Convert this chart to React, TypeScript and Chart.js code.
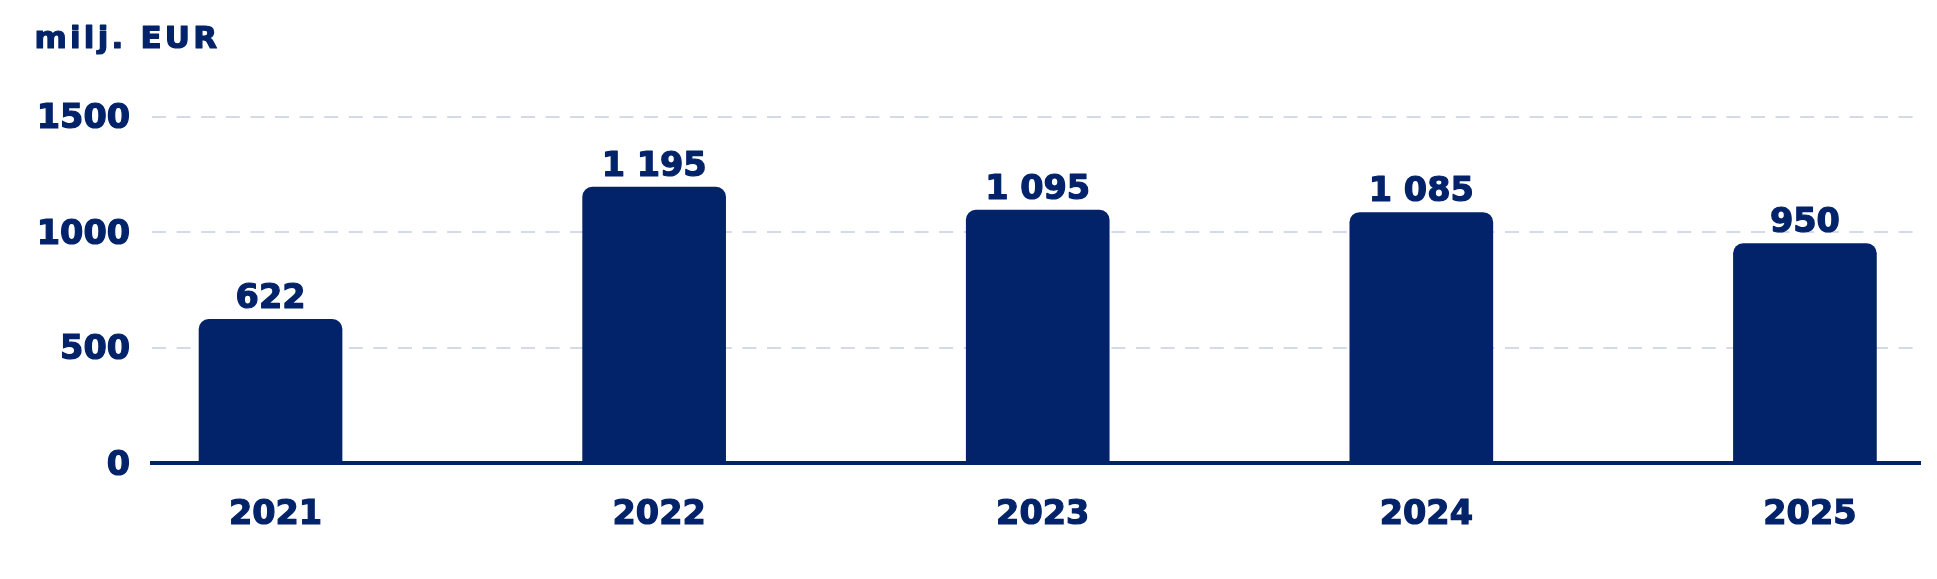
import React, { useEffect, useRef } from 'react';
import { Chart, registerables } from 'chart.js';

Chart.register(...registerables);

const categories = ['2021', '2022', '2023', '2024', '2025'];
const values = [622, 1195, 1095, 1085, 950];
const yTicks = [0, 500, 1000, 1500];
const unitLabel = 'milj. EUR';

const NAVY = '#022369';
const GRID = '#d5dae8';
const FONT = '"DejaVu Sans", Verdana, sans-serif';
const STROKE = 1.2;

function fmt(v: number): string {
  return String(v).replace(/\B(?=(\d{3})+(?!\d))/g, ' ');
}

export default function App() {
  const ref = useRef<HTMLCanvasElement>(null);

  useEffect(() => {
    const titlePlugin = {
      id: 'unitTitle',
      afterDraw(chart: any) {
        const ctx = chart.ctx as CanvasRenderingContext2D;
        ctx.save();
        ctx.font = `bold 31px ${FONT}`;
        ctx.fillStyle = NAVY;
        ctx.strokeStyle = NAVY;
        ctx.lineWidth = STROKE;
        ctx.lineJoin = 'round';
        ctx.textAlign = 'left';
        ctx.textBaseline = 'alphabetic';
        (ctx as any).letterSpacing = '3.2px';
        ctx.strokeText(unitLabel, 26.5, 40);
        ctx.fillText(unitLabel, 26.5, 40);
        ctx.restore();
      },
    };

    const valuePlugin = {
      id: 'valueLabels',
      afterDatasetsDraw(chart: any) {
        const ctx = chart.ctx as CanvasRenderingContext2D;
        const meta = chart.getDatasetMeta(0);
        ctx.save();
        ctx.font = `bold 33.5px ${FONT}`;
        ctx.fillStyle = NAVY;
        ctx.strokeStyle = NAVY;
        ctx.lineWidth = STROKE;
        ctx.lineJoin = 'round';
        ctx.textAlign = 'center';
        ctx.textBaseline = 'alphabetic';
        meta.data.forEach((bar: any, i: number) => {
          const t = fmt(values[i]);
          ctx.strokeText(t, bar.x, bar.y - 11.5);
          ctx.fillText(t, bar.x, bar.y - 11.5);
        });
        ctx.restore();
      },
    };

    const tickFont = { family: FONT, size: 33.5, weight: 'bold' };

    const chart = new Chart(ref.current as HTMLCanvasElement, {
      type: 'bar',
      data: {
        datasets: [
          {
            data: values.map((v, i) => ({ x: i, y: v })),
            backgroundColor: NAVY,
            borderRadius: 10,
            borderSkipped: 'start',
            barThickness: 143,
          } as any,
        ],
      },
      options: {
        animation: false,
        responsive: false,
        layout: { padding: { top: 108.7, right: 9, left: 0, bottom: 0 } },
        plugins: {
          legend: { display: false },
          tooltip: { enabled: false },
        },
        scales: {
          x: {
            type: 'linear',
            offset: false,
            min: -0.309,
            max: 4.3,
            grid: { display: false, drawTicks: false },
            border: { display: true, color: NAVY, width: 4 },
            afterBuildTicks: (s: any) => {
              s.ticks = categories.map((_, i) => ({ value: i }));
            },
            afterFit: (s: any) => {
              s.height = 108;
            },
            ticks: {
              autoSkip: false,
              maxRotation: 0,
              minRotation: 0,
              padding: 32,
              labelOffset: 5,
              color: NAVY,
              textStrokeColor: NAVY,
              textStrokeWidth: STROKE,
              font: tickFont,
              callback: (v: any) => categories[Math.round(Number(v))] ?? '',
            },
          } as any,
          y: {
            min: 0,
            max: 1500,
            afterBuildTicks: (s: any) => {
              s.ticks = yTicks.map((v) => ({ value: v }));
            },
            afterFit: (s: any) => {
              s.width = 144;
            },
            grid: {
              color: (c: any) => (c.tick && c.tick.value === 0 ? 'rgba(0,0,0,0)' : GRID),
              lineWidth: 2,
              drawTicks: false,
            },
            border: { display: false, dash: [14, 10.6] },
            ticks: {
              padding: 22,
              labelOffset: 3,
              color: NAVY,
              textStrokeColor: NAVY,
              textStrokeWidth: STROKE,
              font: tickFont,
              callback: (v: any) => String(v),
            },
          } as any,
        },
      },
      plugins: [titlePlugin, valuePlugin],
    });

    return () => chart.destroy();
  }, []);

  return <canvas ref={ref} width={1921} height={563} style={{ display: 'block' }} />;
}
